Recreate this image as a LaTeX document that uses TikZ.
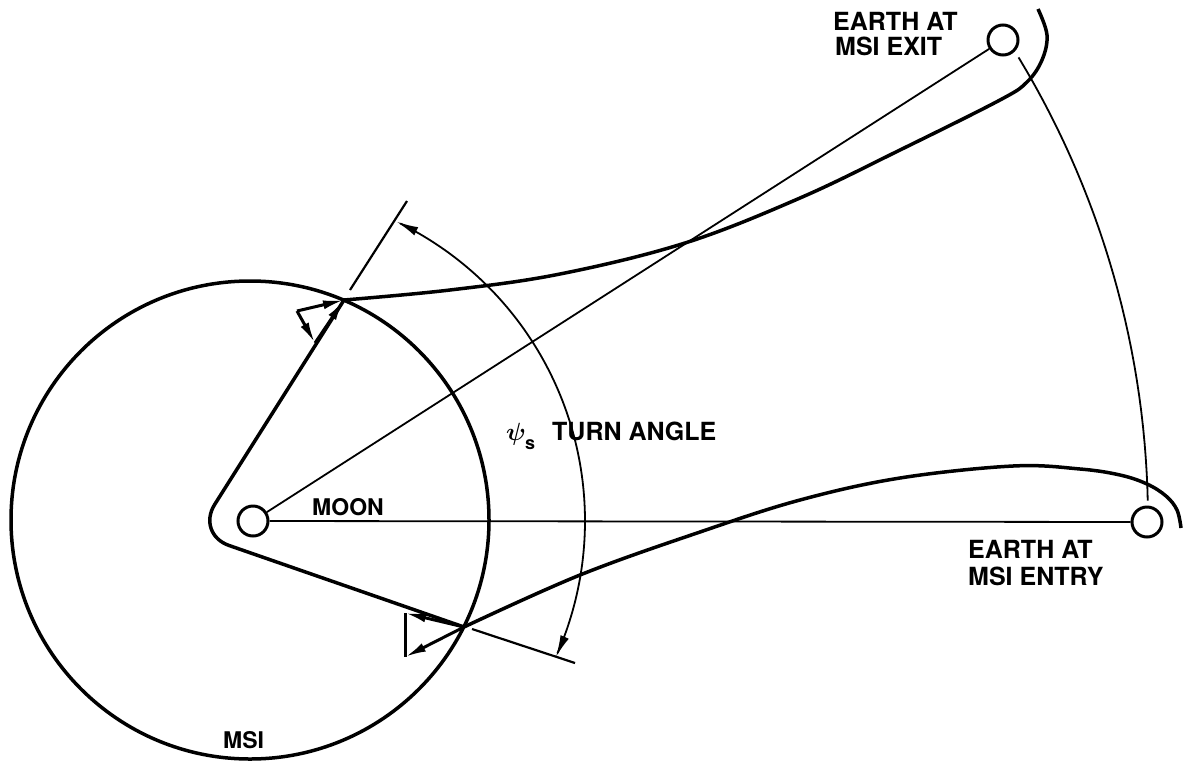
\documentclass[tikz,border=0pt]{standalone}
\usepackage{amsmath}
\usepackage{fontspec}
\setmainfont{TeX Gyre Heros}
\usetikzlibrary{arrows.meta}
\begin{document}
\begin{tikzpicture}[x=1pt,y=-1pt,
  thickline/.style={line width=3.5pt},
  thinline/.style={line width=1.8pt},
  body/.style={circle, draw, line width=3pt, minimum size=30pt, inner sep=0pt},
  lbl/.style={font=\fontsize{25}{30}\bfseries\selectfont, inner sep=0pt, anchor=base west},
  smalllbl/.style={font=\fontsize{23}{28}\bfseries\selectfont, inner sep=0pt, anchor=base west},
  tipend/.style={-{Latex[length=21pt,width=9pt]}},
  tipboth/.style={{Latex[length=22pt,width=9pt]}-{Latex[length=22pt,width=9pt]}}
]
\useasboundingbox (0,0) rectangle (1184,764);
% bodies
\node[body] (moon) at (253,521) {};
\node[body] (eentry) at (1147,522) {};
\node[body] (eexit) at (1003,40) {};
\coordinate (P2) at (344,300);
\coordinate (P1) at (464,627);
\coordinate (apex) at (196,534);
\coordinate (V1) at (297,311);
\coordinate (V2) at (315,343);
\coordinate (V3) at (405,613);
\coordinate (V4) at (405,657);
\coordinate (A1) at (350,290);
\coordinate (A2) at (407,201);
\coordinate (B1) at (472,629);
\coordinate (B2) at (575,663);
% MSI sphere
\draw[thickline] (250,520) circle[radius=239];
% Moon-earth lines
\draw[thinline] (moon) -- (eentry);
\draw[thinline] (moon) -- (eexit);
% earth path arc
\draw[thinline] plot[domain=-31.2:-1.3,samples=90] ({253+895*cos(\x)},{521+895*sin(\x)});
% turn angle arc
\draw[thinline, tipboth] plot[domain=-64.4:24.2,samples=120] ({253+332*cos(\x)},{521+332*sin(\x)});
\draw[line width=2.2pt] (A1) -- (A2);
\draw[line width=2.2pt] (B1) -- (B2);
% wedge
\draw[thickline, rounded corners=35pt] (P2) -- (apex) -- (P1);
% trajectories
\draw[thickline] plot[smooth, tension=0.6] coordinates {(344,300) (450,290) (560,274) (685,243) (800,198) (900,150) (1000,100) (1027,82) (1042,60) (1047,35) (1038,9)};
\draw[thickline] plot[smooth, tension=0.6] coordinates {(464,627) (580,575) (700,532) (800,500) (900,478) (1013,466) (1080,469) (1120,475) (1147,484) (1166,496) (1177,510) (1181,528)};
% velocity triangles
\draw[line width=3pt, tipend] (V1) -- (P2);
\draw[line width=3pt, tipend] (V1) -- (V2);
\draw[line width=3pt, tipend] (V2) -- (P2);
\draw[line width=3pt, tipend] (P1) -- (V3);
\draw[line width=3pt, tipend] (P1) -- (V4);
\draw[line width=3pt] (V3) -- (V4);
% labels
\node[smalllbl] (moonlbl) at (312,515) {MOON};
\node[smalllbl] (msilbl) at (223,748) {MSI};
\node[lbl, font=\fontsize{24}{30}\selectfont] (psilbl) at (506,440) {$\boldsymbol{\psi}$};
\node[lbl, font=\fontsize{18}{20}\bfseries\selectfont] (sublbl) at (525,449) {s};
\node[lbl] (turnlbl) at (552,440) {TURN ANGLE};
\node[lbl] (entry1) at (968,558) {EARTH AT};
\node[lbl] (entry2) at (968,585) {MSI ENTRY};
\node[lbl] (exit1) at (833,30) {EARTH AT};
\node[lbl] (exit2) at (835,55) {MSI EXIT};
\end{tikzpicture}
\end{document}
